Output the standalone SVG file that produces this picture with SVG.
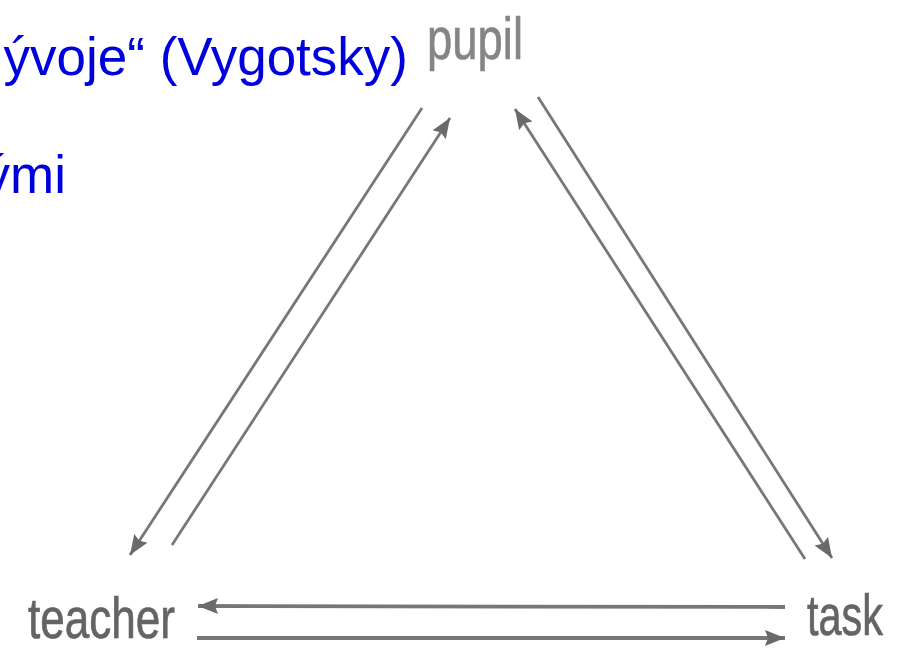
<svg xmlns="http://www.w3.org/2000/svg" width="905" height="651" viewBox="0 0 905 651">
  <style>
    .heading { font-family: "Liberation Sans", Arial, sans-serif; font-size: 53px; fill: #0000dd; }
    .label { font-family: "Liberation Sans", Arial, sans-serif; fill: #646464; stroke: #646464; stroke-width: 0.7; }
    .conn { stroke: #777777; fill: none; stroke-width: 2.8; }
    .conn.h { stroke-width: 3.8; }
  </style>
  <defs>
    <marker id="arr" markerUnits="userSpaceOnUse" markerWidth="26" markerHeight="20" refX="20" refY="8" orient="auto">
      <path d="M0,0 L20,8 L0,16 L3,8 Z" fill="#6a6a6a"/>
    </marker>
  </defs>
  <rect width="905" height="651" fill="#ffffff"/>

  <g id="heading">
    <text class="heading" x="408" y="75" text-anchor="end">ývoje“ (Vygotsky)</text>
    <text class="heading" x="66" y="193" text-anchor="end">ými</text>
  </g>

  <g id="connectors">
    <line class="conn" x1="422" y1="108" x2="130" y2="555" marker-end="url(#arr)"/>
    <line class="conn" x1="172" y1="545" x2="450" y2="118" marker-end="url(#arr)"/>
    <line class="conn" x1="805" y1="559" x2="515" y2="109" marker-end="url(#arr)"/>
    <line class="conn" x1="538" y1="97" x2="832" y2="558" marker-end="url(#arr)"/>
    <line class="conn h" x1="785" y1="607" x2="198" y2="606" marker-end="url(#arr)"/>
    <line class="conn h" x1="197" y1="638" x2="785" y2="638" marker-end="url(#arr)"/>
  </g>

  <g id="pupil">
    <text class="label" x="427" y="59" font-size="60" style="fill:#858585;stroke:#858585" textLength="96" lengthAdjust="spacingAndGlyphs">pupil</text>
  </g>
  <g id="teacher">
    <text class="label" x="28" y="638" font-size="57" textLength="147" lengthAdjust="spacingAndGlyphs">teacher</text>
  </g>
  <g id="task">
    <text class="label" x="807" y="635" font-size="57" textLength="76" lengthAdjust="spacingAndGlyphs">task</text>
  </g>
</svg>
